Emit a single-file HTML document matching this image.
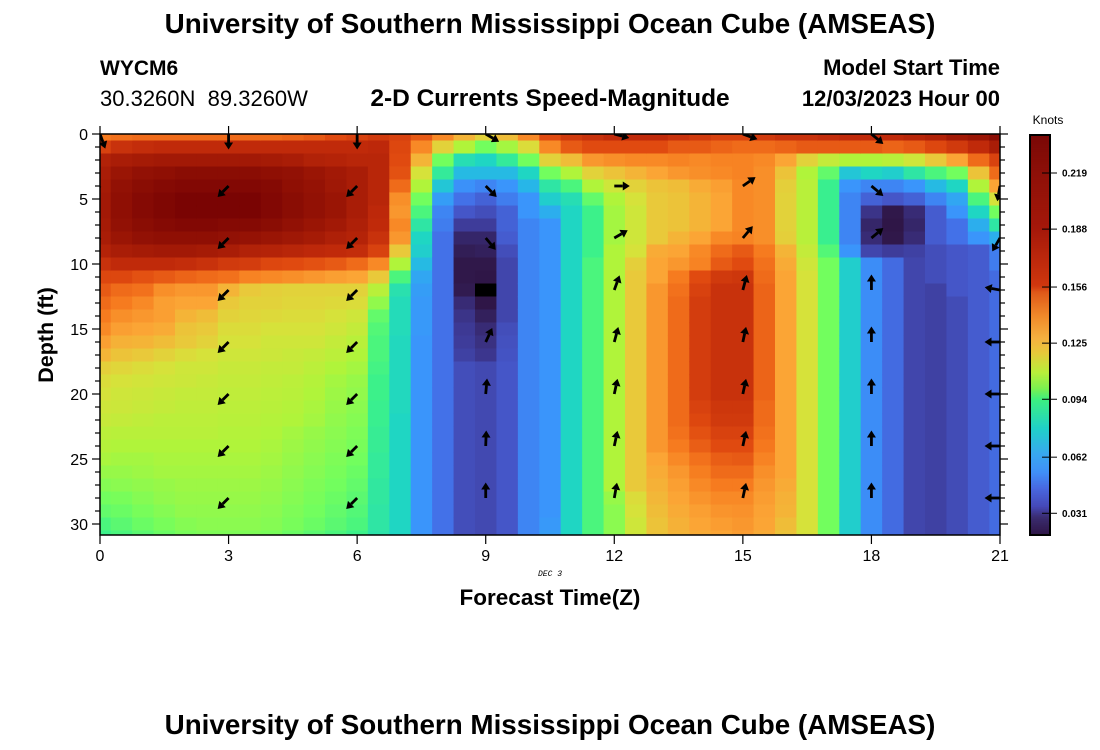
<!DOCTYPE html>
<html><head><meta charset="utf-8"><style>
body{margin:0;background:#fff;}
svg{display:block;font-family:"Liberation Sans",sans-serif;}
</style></head><body>
<svg id="chart" width="1100" height="750" viewBox="0 0 1100 750">
<defs><clipPath id="plotclip"><rect x="100" y="134" width="900" height="401"/></clipPath></defs>
<text x="550" y="33" text-anchor="middle" font-size="27.8" font-weight="bold">University of Southern Mississippi Ocean Cube (AMSEAS)</text>
<text x="100" y="75" font-size="21" font-weight="bold">WYCM6</text>
<text x="100" y="106" font-size="22" xml:space="preserve">30.3260N&#160;&#160;89.3260W</text>
<text x="550" y="106" text-anchor="middle" font-size="24.5" font-weight="bold">2-D Currents Speed-Magnitude</text>
<text x="1000" y="75" text-anchor="end" font-size="22" font-weight="bold">Model Start Time</text>
<text x="1000" y="106" text-anchor="end" font-size="22" font-weight="bold">12/03/2023 Hour 00</text>
<g id="cells" clip-path="url(#plotclip)"></g>
<g id="arrows" clip-path="url(#plotclip)"></g>
<rect x="100" y="134" width="900" height="401" fill="none" stroke="#000" stroke-width="1.5"/>
<g id="axes"></g>
<text transform="translate(53,335) rotate(-90)" text-anchor="middle" font-size="21.5" font-weight="bold">Depth (ft)</text>
<text x="550" y="576" text-anchor="middle" font-size="8" font-style="italic" font-family="Liberation Mono,monospace">DEC 3</text>
<text x="550" y="605" text-anchor="middle" font-size="22.5" font-weight="bold">Forecast Time(Z)</text>
<text x="1048" y="124" text-anchor="middle" font-size="12">Knots</text>
<g id="cbar"></g>
<text x="550" y="734" text-anchor="middle" font-size="27.8" font-weight="bold">University of Southern Mississippi Ocean Cube (AMSEAS)</text>
</svg>
<script>
// speed index (colour-scale units); one array per half-hour column, 32 depths (0..31 ft)
const times = [0,0.5,1,1.5,2,2.5,3,3.5,4,4.5,5,5.5,6,6.5,7,7.5,8,8.5,9,9.5,10,10.5,11,11.5,12,12.5,13,13.5,14,14.5,15,15.5,16,16.5,17,17.5,18,18.5,19,19.5,20,20.5,21];
const depths = [0,1,2,3,4,5,6,7,8,9,10,11,12,13,14,15,16,17,18,19,20,21,22,23,24,25,26,27,28,29,30,31];
const speed = [
[155,175,200,205,208,210,210,208,205,198,185,172,165,160,155,150,142,135,126,122,120,118,116,113,111,109,106,103,100,98,95,93],
[158,185,205,215,220,222,222,220,215,205,190,172,160,155,148,142,136,130,124,120,118,117,115,112,110,108,106,104,101,99,97,95],
[160,188,208,220,225,228,228,225,220,208,190,168,158,150,145,140,135,128,122,119,117,116,114,112,110,108,107,105,103,101,99,97],
[160,190,210,222,228,232,232,228,222,210,190,165,148,142,142,138,132,125,120,118,116,115,113,112,110,109,108,106,105,103,101,99],
[160,190,210,225,230,235,235,230,222,210,188,162,145,140,135,130,128,122,118,117,115,114,113,112,110,109,108,107,106,105,103,101],
[160,190,210,225,230,235,235,230,222,208,185,160,145,140,132,128,125,120,118,116,115,114,113,112,110,109,108,107,106,105,104,102],
[160,190,210,225,230,235,235,228,220,205,180,158,135,128,125,122,120,118,116,115,114,113,112,111,110,109,108,107,106,105,104,102],
[160,190,210,225,230,235,235,228,218,200,178,152,128,125,124,122,120,118,116,115,114,113,112,111,110,109,108,107,106,105,104,102],
[160,190,208,222,228,230,230,225,215,198,172,150,126,125,123,120,118,117,115,114,113,112,111,110,109,108,107,106,105,104,103,101],
[162,190,205,220,222,225,225,220,212,195,170,148,125,124,122,120,118,116,115,113,112,111,110,108,107,106,105,104,103,102,101,99],
[165,190,200,215,218,220,220,215,208,192,168,145,125,124,122,120,118,115,113,111,110,109,108,106,105,104,103,102,101,100,99,97],
[170,190,198,210,212,215,215,210,202,190,165,142,125,123,120,118,115,113,110,108,107,106,105,104,103,102,101,100,99,98,97,95],
[175,190,195,205,205,205,205,202,198,188,160,140,125,122,118,115,112,110,108,106,105,104,103,102,101,100,99,98,97,96,95,93],
[180,192,195,195,195,195,192,190,185,175,150,128,112,105,98,96,95,95,94,93,93,92,92,91,91,90,90,89,89,88,88,87],
[175,172,170,168,160,148,145,150,145,128,110,95,86,84,84,84,83,83,83,83,83,83,82,82,82,82,82,82,82,82,82,82],
[165,150,135,120,110,100,95,88,82,80,75,70,68,67,67,67,66,66,66,66,66,66,66,66,66,66,66,66,66,66,66,66],
[150,125,100,90,78,68,62,60,57,57,57,57,57,57,57,57,57,57,57,57,57,57,57,57,57,57,57,57,57,57,57,57],
[135,110,85,75,65,57,48,38,30,27,25,25,26,32,35,37,38,40,45,45,45,45,45,45,45,45,45,45,45,45,45,45],
[125,100,82,75,62,52,45,38,30,28,25,22,0,22,28,32,34,36,43,43,43,43,43,43,43,43,43,43,43,43,43,43],
[132,108,90,75,66,60,52,52,50,45,42,42,42,42,42,45,46,47,48,48,48,48,48,48,48,48,48,48,48,48,48,48],
[150,122,100,82,74,66,66,62,62,62,62,62,62,62,62,62,62,62,62,62,62,62,62,62,62,62,62,62,62,62,62,62],
[170,150,125,100,88,80,72,66,66,66,66,66,66,66,66,66,66,66,66,66,66,66,66,66,66,66,66,66,66,66,67,68],
[180,165,132,110,95,85,82,82,82,82,82,82,82,82,82,82,82,82,82,82,82,82,82,82,82,82,82,82,82,82,82,82],
[185,170,145,125,110,98,93,93,93,93,95,95,95,95,95,95,95,95,95,95,95,95,95,95,95,95,95,95,95,95,95,95],
[190,170,148,130,118,110,108,108,108,110,110,110,110,110,110,110,110,110,110,110,110,110,110,110,110,110,110,110,106,104,104,104],
[190,170,150,135,125,120,118,118,118,120,126,128,128,128,128,128,128,128,128,128,128,128,128,128,128,128,128,128,122,120,118,118],
[190,170,150,140,130,128,128,128,128,138,140,140,145,145,145,145,145,145,145,145,145,145,145,145,145,140,138,136,134,132,130,130],
[185,165,152,145,132,130,130,130,135,140,145,155,158,160,160,160,160,160,160,160,160,160,160,158,155,150,145,142,140,138,136,135],
[180,165,150,148,138,135,135,135,140,150,152,170,175,178,178,178,178,178,178,178,178,175,172,168,164,158,154,150,146,142,140,138],
[175,162,152,150,142,140,140,140,150,160,165,180,185,185,185,185,185,185,185,185,185,182,180,175,170,164,160,155,150,146,143,140],
[175,160,152,152,150,150,150,150,152,165,170,182,185,185,185,185,185,185,185,185,185,182,180,175,170,165,160,155,150,147,145,143],
[180,160,150,148,148,148,148,148,148,155,158,160,162,162,162,162,162,162,162,162,162,160,160,158,156,152,148,145,143,141,140,138],
[185,162,140,130,126,125,125,125,126,135,138,140,140,140,140,140,140,140,140,140,140,140,140,140,140,140,140,138,136,135,132,130],
[185,165,125,110,112,112,112,112,112,115,118,120,120,120,120,120,120,120,120,120,120,120,120,120,120,120,120,120,120,120,120,120],
[188,165,115,98,92,92,92,92,92,96,100,100,100,100,100,100,100,100,100,100,100,100,100,100,100,100,100,100,100,100,100,100],
[190,165,110,78,66,62,62,62,62,66,80,80,80,80,80,80,80,80,80,80,80,80,80,80,80,80,80,80,80,80,80,80],
[190,165,110,82,62,52,35,30,32,42,64,64,64,64,64,64,64,64,64,64,64,64,64,64,64,64,64,64,64,64,64,64],
[190,162,112,80,62,48,25,22,25,38,55,55,55,55,55,55,55,55,55,55,55,55,55,55,55,55,55,55,55,55,55,55],
[195,165,118,88,66,52,32,30,32,40,42,42,42,42,42,42,42,42,42,42,42,42,42,42,42,42,42,42,42,42,42,42],
[200,172,128,95,75,62,50,50,50,45,45,45,40,40,40,40,40,40,40,40,40,40,40,40,40,40,40,40,40,40,40,40],
[210,180,140,100,82,70,66,57,57,48,48,48,48,44,44,44,44,44,44,44,44,44,44,44,44,44,44,44,44,44,44,44],
[215,190,160,130,110,95,82,72,66,50,50,50,50,50,50,50,50,50,50,50,50,50,50,50,50,50,50,50,50,50,50,50],
[225,205,175,160,140,120,100,88,72,60,60,55,55,55,55,55,55,55,55,55,55,55,55,55,55,55,55,55,55,55,55,55]
];
const arrowTimes = [0,3,6,9,12,15,18,21];
const arrowDepths = [0,4,8,12,16,20,24,28];
// screen angle in degrees (0 = right, 90 = down), null = no arrow
const arrowAngles = [
[70,120,120,null,null,null,null,null],
[90,135,135,135,135,135,135,135],
[90,135,135,135,135,135,135,135],
[30,45,50,null,-65,-85,-88,-90],
[15,0,-30,-70,-75,-78,-78,-80],
[20,-35,-50,-75,-78,-78,-78,-78],
[40,40,-40,-90,-90,-90,-90,-90],
[null,100,120,190,180,180,180,180]
];
const yTickLabels = [0,5,10,15,20,25,30];
const xTickLabels = [0,3,6,9,12,15,18,21];
const cbarTicks = [0.031,0.062,0.094,0.125,0.156,0.188,0.219];
// colour scale for the heatmap (scale units -> colour)
const scaleVals = [20,25,38,48,57,66,74,82,93,100,110,120,128,140,155,170,190,215,235];
const scaleCols = ['#2e1545','#30184a','#3e3c9a','#4556c8','#4371e8','#3a95fb','#27b6e8','#1fd6c3','#3cf18a','#72fe5e','#b0f43a','#d6e23a','#e9c93a','#fba535','#f67b1f','#e04a10','#c02a0a','#9a1505','#7a0403'];
// colour bar appearance (knots -> colour)
const cbarVals = [0.019,0.029,0.035,0.045,0.054,0.064,0.078,0.094,0.100,0.109,0.120,0.128,0.140,0.153,0.157,0.188,0.219,0.240];
const cbarCols = ['#2e1545','#3a2c70','#4548b8','#4868e0','#4090f8','#38a8f0','#20d0c8','#3cf080','#7af050','#b8ee3a','#e8c83a','#f5b040','#f08a2a','#e05a1a','#d0370e','#a5180a','#8e1008','#7a0806'];

const NS='http://www.w3.org/2000/svg';
const VMIN=0.019, VMAX=0.240;
const xs = t => 100 + t*(900/21);
const ys = d => 134 + d*13;
function hex(h){return [1,3,5].map(i=>parseInt(h.substr(i,2),16));}
function interp(v,vals,cols){
  if(v<=vals[0]) return cols[0];
  for(let i=1;i<vals.length;i++){
    if(v<=vals[i]){
      const f=(v-vals[i-1])/(vals[i]-vals[i-1]);
      const a=hex(cols[i-1]), b=hex(cols[i]);
      return 'rgb('+a.map((x,k)=>Math.round(x+(b[k]-x)*f)).join(',')+')';
    }
  }
  return cols[cols.length-1];
}
function col(v){ if(v<=0) return '#000'; return interp(v,scaleVals,scaleCols); }
function mk(tag,attrs,parent){const e=document.createElementNS(NS,tag);for(const k in attrs)e.setAttribute(k,attrs[k]);parent.appendChild(e);return e;}

const cells=document.getElementById('cells');
const cw=900/21*0.5;
times.forEach((t,ci)=>{depths.forEach((d,ri)=>{
  const r=mk('rect',{x:(xs(t)-cw/2).toFixed(2),y:(ys(d)-6.5).toFixed(2),width:(cw+0.6).toFixed(2),height:13.6,fill:col(speed[ci][ri])},cells);
  
  
});});

const arrows=document.getElementById('arrows');
arrowTimes.forEach((t,i)=>{arrowDepths.forEach((d,j)=>{
  const a=arrowAngles[i][j]; if(a===null) return;
  const x0=xs(t), y0=ys(d), L=14, rad=a*Math.PI/180;
  const x1=x0+L*Math.cos(rad), y1=y0+L*Math.sin(rad);
  const g=mk('g',{},arrows);
  
  
  const bx=x0+(L-5.5)*Math.cos(rad), by=y0+(L-5.5)*Math.sin(rad);
  mk('line',{x1:x0,y1:y0,x2:bx,y2:by,stroke:'#000','stroke-width':2.8},g);
  const px=-Math.sin(rad)*4.5, py=Math.cos(rad)*4.5;
  mk('polygon',{points:`${x1+1.5*Math.cos(rad)},${y1+1.5*Math.sin(rad)} ${bx+px},${by+py} ${bx-px},${by-py}`,fill:'#000'},g);
});});

const axes=document.getElementById('axes');
for(let d=0;d<=30;d++){
  const major=d%5===0, y=ys(d);
  mk('line',{x1:100-(major?8:5),y1:y,x2:100,y2:y,stroke:'#000','stroke-width':1.2},axes);
  mk('line',{x1:1000,y1:y,x2:1000+(major?8:5),y2:y,stroke:'#000','stroke-width':1.2},axes);
}
yTickLabels.forEach(v=>{
  const t=mk('text',{x:88,y:ys(v)+6,'text-anchor':'end','font-size':16},axes);
  t.textContent=v;
  
  
});
xTickLabels.forEach(v=>{
  const x=xs(v);
  mk('line',{x1:x,y1:535,x2:x,y2:544,stroke:'#000','stroke-width':1.2},axes);
  mk('line',{x1:x,y1:126,x2:x,y2:134,stroke:'#000','stroke-width':1.2},axes);
  const t=mk('text',{x:x,y:561,'text-anchor':'middle','font-size':16},axes);
  t.textContent=v;
  
  
});

const cb=document.getElementById('cbar');
const cy=v=>535-(v-VMIN)/(VMAX-VMIN)*400;
for(let i=0;i<200;i++){
  const v=VMIN+(i+0.5)/200*(VMAX-VMIN);
  mk('rect',{x:1030,y:(535-(i+1)*2).toFixed(1),width:20,height:2.4,fill:interp(v,cbarVals,cbarCols)},cb);
}
mk('rect',{x:1030,y:135,width:20,height:400,fill:'none',stroke:'#000','stroke-width':2},cb);
cbarTicks.forEach(v=>{
  const y=cy(v);
  mk('line',{x1:1042,y1:y,x2:1057,y2:y,stroke:'#000','stroke-width':1},cb);
  const t=mk('text',{x:1062,y:y+3.5,'font-size':10,'font-weight':'bold'},cb);
  t.textContent=v.toFixed(3);
  
  
});
</script>
</body></html>
